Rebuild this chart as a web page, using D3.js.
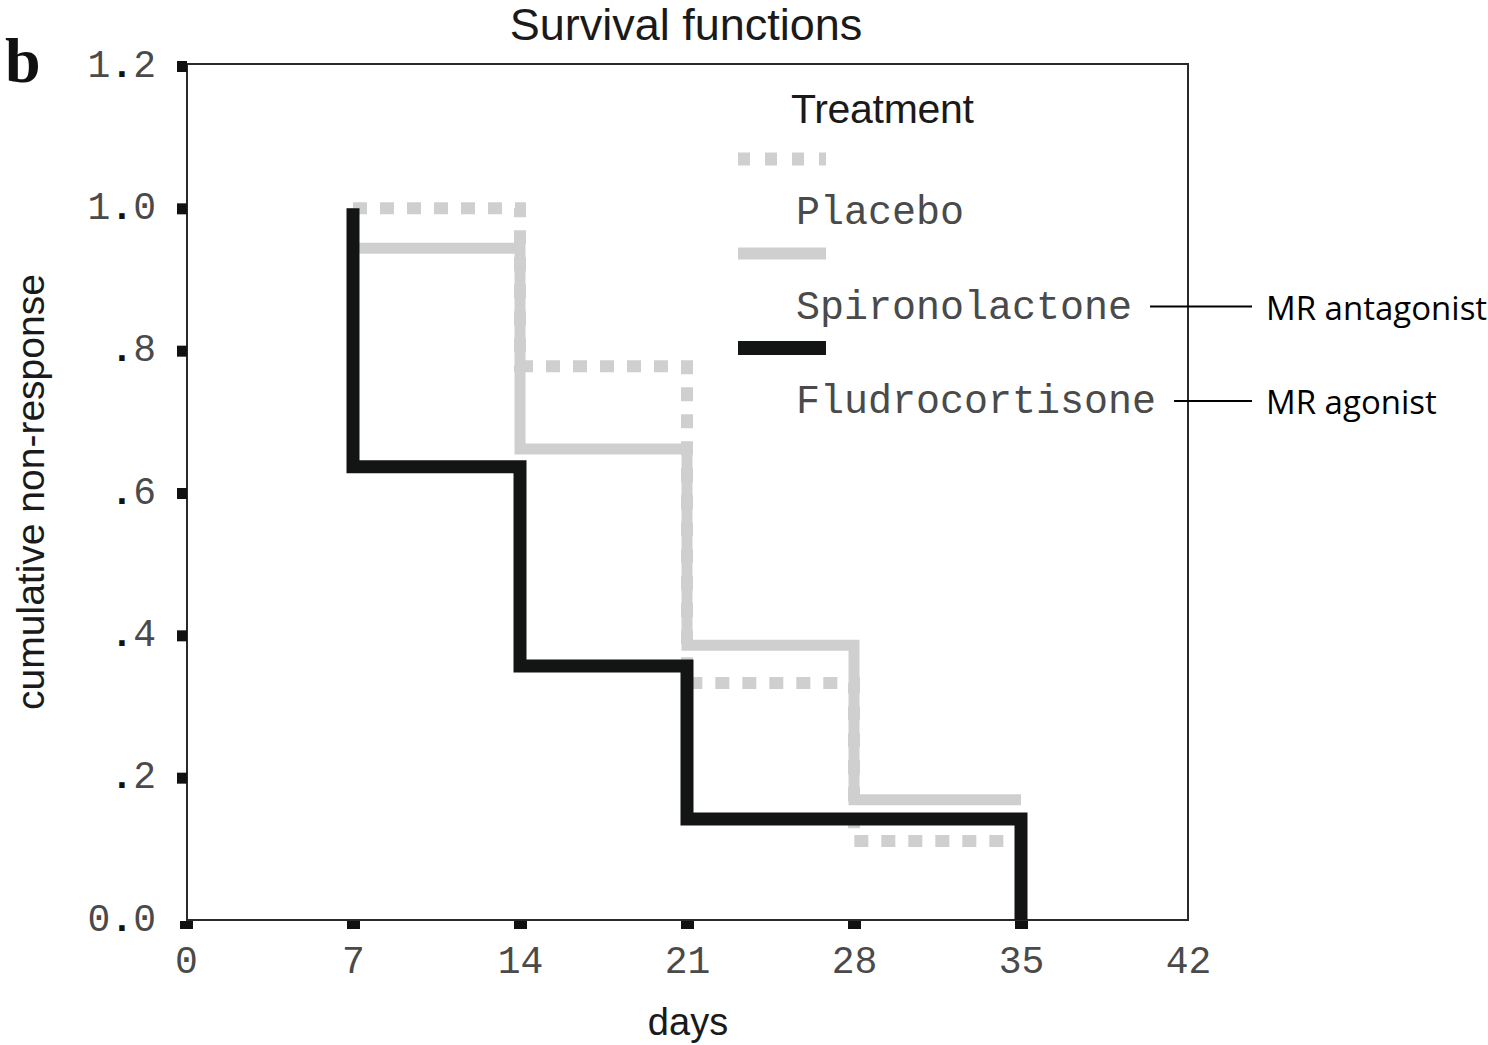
<!DOCTYPE html>
<html>
<head>
<meta charset="utf-8">
<script src="https://cdn.jsdelivr.net/npm/d3@7/dist/d3.min.js"></script>
<style>
  body { margin: 0; background: #fff; }
  .tick text { font-family: "Liberation Mono", "Courier New", monospace; font-size: 38px; fill: #4a4a4a; }
  .axis path.domain { display: none; }
</style>
</head>
<body>
<div id="chart"></div>
<script>
// --- data ---
var treatments = ["Placebo", "Spironolactone", "Fludrocortisone"];

// Kaplan-Meier steps [day, cumulative non-response]
var placeboSteps = [[7, 1.0], [14, 0.778], [21, 0.333], [28, 0.111], [35, 0.111]];
var spiroSteps   = [[7, 1.0], [7, 0.944], [14, 0.662], [21, 0.386], [28, 0.169], [35, 0.169]];
var fludroSteps  = [[7, 1.0], [7, 0.637], [14, 0.357], [21, 0.142], [35, 0.0]];

var xTicks = [0, 7, 14, 21, 28, 35, 42];
var yTicks = [0, 0.2, 0.4, 0.6, 0.8, 1.0, 1.2];
var yTickLabels = ["0.0", ".2", ".4", ".6", ".8", "1.0", "1.2"];

var annotations = {"Spironolactone": "MR antagonist", "Fludrocortisone": "MR agonist"};

// --- styles (kept apart from data) ---
var styles = {
  "Placebo":         {color: "#cfcfcf", width: 12, dash: "14,13"},
  "Spironolactone":  {color: "#cfcfcf", width: 11, dash: null},
  "Fludrocortisone": {color: "#131414", width: 13, dash: null}
};

var W = 1488, H = 1045;

var svg = d3.select("#chart").append("svg")
    .attr("width", W)
    .attr("height", H);

var x = d3.scaleLinear().domain([0, 42]).range([186, 1188]);
var y = d3.scaleLinear().domain([0, 1.2]).range([920, 66]);

// frame
svg.append("rect")
    .attr("x", x(0) + 1)
    .attr("y", y(1.2) - 2)
    .attr("width", x(42) - x(0) - 1)
    .attr("height", y(0) - y(1.2) + 2)
    .attr("fill", "none")
    .attr("stroke", "#2a2a2a")
    .attr("stroke-width", 2);

// y axis
var yAxis = svg.append("g")
    .attr("class", "axis")
    .attr("transform", "translate(" + (x(0) + 1) + ",0)")
    .call(d3.axisLeft(y).tickValues(yTicks).tickSize(10).tickPadding(21)
        .tickFormat(function(d, i) { return yTickLabels[i]; }));
yAxis.selectAll(".tick line")
    .attr("stroke", "#111")
    .attr("stroke-width", 11)
    .style("display", function(d) { return d === 0 ? "none" : null; });
yAxis.selectAll(".tick text")
    .attr("dy", "0.27em")
    .each(function(d, i) {
      var t = d3.select(this), s = t.text();
      t.text("");
      s.split("").forEach(function(ch) {
        var sp = t.append("tspan").text(ch);
        if (ch === ".") sp.style("fill", "#111").style("font-weight", "bold");
      });
    });

// x axis
var xAxis = svg.append("g")
    .attr("class", "axis")
    .attr("transform", "translate(0," + (y(0) + 1) + ")")
    .call(d3.axisBottom(x).tickValues(xTicks).tickSize(8).tickPadding(17));
xAxis.selectAll(".tick line")
    .attr("stroke", "#111")
    .attr("stroke-width", 13)
    .style("display", function(d) { return d === 42 ? "none" : null; });

// survival curves
var line = d3.line()
    .x(function(d) { return x(d[0]); })
    .y(function(d) { return y(d[1]); })
    .curve(d3.curveStepAfter);

var series = [placeboSteps, spiroSteps, fludroSteps];
series.forEach(function(steps, i) {
  var st = styles[treatments[i]];
  svg.append("path")
      .datum(steps)
      .attr("d", line)
      .attr("fill", "none")
      .attr("stroke", st.color)
      .attr("stroke-width", st.width)
      .attr("stroke-dasharray", st.dash)
      .attr("stroke-linecap", "butt")
      .attr("stroke-linejoin", "miter");
});

// title & axis titles
svg.append("text")
    .attr("x", (x(0) + x(42)) / 2 - 1)
    .attr("y", 40)
    .attr("text-anchor", "middle")
    .style("font-family", "'Liberation Sans', Arial, sans-serif")
    .style("font-size", "45px")
    .style("fill", "#1a1a1a")
    .text("Survival functions");

svg.append("text")
    .attr("x", (x(0) + x(42)) / 2 + 1)
    .attr("y", 1035)
    .attr("text-anchor", "middle")
    .style("font-family", "'Liberation Sans', Arial, sans-serif")
    .style("font-size", "38px")
    .style("fill", "#1a1a1a")
    .text("days");

svg.append("text")
    .attr("transform", "translate(44," + (y(0.6) - 1) + ") rotate(-90)")
    .attr("text-anchor", "middle")
    .style("font-family", "'Liberation Sans', Arial, sans-serif")
    .style("font-size", "39px")
    .style("fill", "#1a1a1a")
    .text("cumulative non-response");

svg.append("text")
    .attr("x", 5)
    .attr("y", 82)
    .style("font-family", "'Liberation Serif', 'Times New Roman', serif")
    .style("font-weight", "bold")
    .style("font-size", "64px")
    .style("fill", "#111")
    .text("b");

// legend
var legendX = 738, legendTop = 159, rowStep = 94.5;

svg.append("text")
    .attr("x", 791)
    .attr("y", 123)
    .style("font-family", "'Liberation Sans', Arial, sans-serif")
    .style("font-size", "41px")
    .style("letter-spacing", "-0.3px")
    .style("fill", "#1a1a1a")
    .text("Treatment");

var legend = svg.selectAll(".legend")
    .data(treatments)
  .enter().append("g")
    .attr("class", "legend")
    .attr("transform", function(d, i) { return "translate(0," + (legendTop + i * rowStep) + ")"; });

legend.append("line")
    .attr("x1", legendX)
    .attr("x2", legendX + 88)
    .attr("stroke", function(d) { return styles[d].color; })
    .attr("stroke-width", function(d) { return styles[d].width + 1; })
    .attr("stroke-dasharray", function(d) { return styles[d].dash ? "12,15" : null; });

legend.append("text")
    .attr("class", "lbl")
    .attr("x", 796)
    .attr("y", 65)
    .style("font-family", "'Liberation Mono', 'Courier New', monospace")
    .style("font-size", "40px")
    .style("fill", "#4a4a4a")
    .text(function(d) { return d; });

// MR annotations on the right
legend.filter(function(d) { return annotations[d]; }).each(function(d) {
  var g = d3.select(this);
  var len = g.select("text.lbl").node().getComputedTextLength();
  g.append("line")
      .attr("x1", 796 + len + 18)
      .attr("x2", 1252)
      .attr("y1", 53)
      .attr("y2", 53)
      .attr("stroke", "#000")
      .attr("stroke-width", 2);
  g.append("text")
      .attr("x", 1266)
      .attr("y", 66)
      .style("font-family", "'Open Sans', 'Noto Sans', sans-serif")
      .style("font-size", "33px")
      .style("fill", "#000")
      .text(annotations[d]);
});
</script>
</body>
</html>
